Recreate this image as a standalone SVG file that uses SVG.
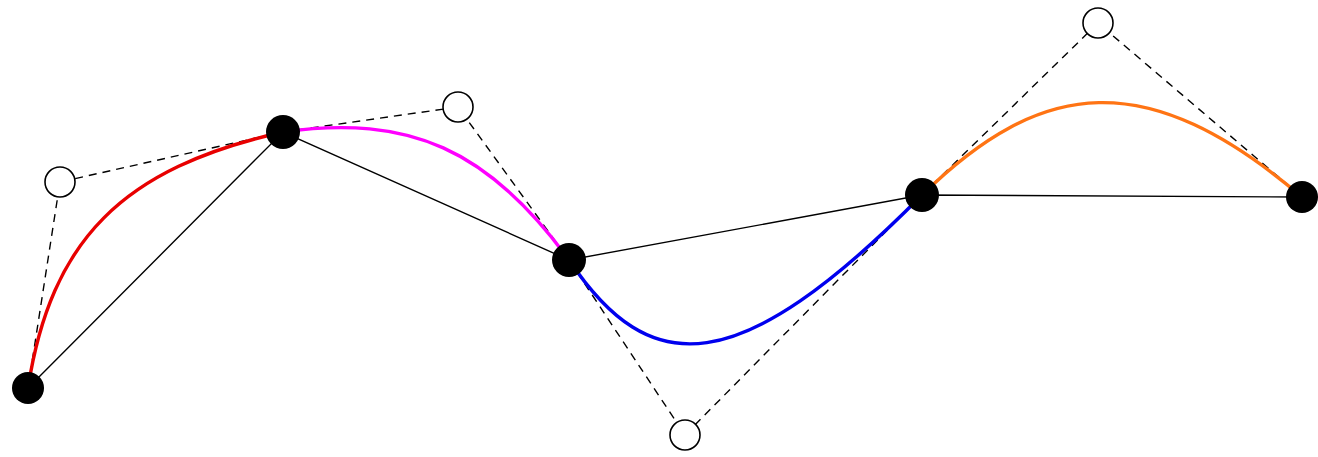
<svg xmlns="http://www.w3.org/2000/svg" width="1318" height="457" viewBox="0 0 1318 457">
<style>
.chord{stroke:#000;stroke-width:1.4;fill:none}
.hull{stroke:#000;stroke-width:1.4;fill:none;stroke-dasharray:8 6}
.curve{fill:none;stroke-width:3.4;stroke-linecap:round}
.anchor{fill:#000}
.ctrl{fill:#fff;stroke:#000;stroke-width:1.6}
</style>
<rect width="1318" height="457" fill="#fff"/>
<g id="connectors">
<path class="chord" d="M28 388L283 132L569 260L922 195L1302 197"/>
<path class="hull" d="M28 388L60 182L283 132"/>
<path class="hull" d="M283 132L458 107L569 260"/>
<path class="hull" d="M569 260L685 435L922 195"/>
<path class="hull" d="M922 195L1098 23L1302 197"/>
<path class="curve" stroke="#e80000" d="M28 388C51 239.7 122.4 168 283 132"/>
<path class="curve" stroke="#ff00ff" d="M283 132C409 114 489.1 149.8 569 260"/>
<path class="curve" stroke="#0000ee" d="M569 260C650 381 738 381 922 195"/>
<path class="curve" stroke="#ff7414" d="M922 195C1041.7 78 1147 65 1302 197"/>
</g>
<g id="c0"><circle class="ctrl" cx="60" cy="182" r="15"/></g>
<g id="c1"><circle class="ctrl" cx="458" cy="107" r="15"/></g>
<g id="c2"><circle class="ctrl" cx="685" cy="435" r="15"/></g>
<g id="c3"><circle class="ctrl" cx="1098" cy="23" r="15"/></g>
<g id="p0"><circle class="anchor" cx="28" cy="388" r="16"/></g>
<g id="p1"><circle class="anchor" cx="283" cy="132" r="17"/></g>
<g id="p2"><circle class="anchor" cx="569" cy="260" r="17"/></g>
<g id="p3"><circle class="anchor" cx="922" cy="195" r="17"/></g>
<g id="p4"><circle class="anchor" cx="1302" cy="197" r="16"/></g>
</svg>
